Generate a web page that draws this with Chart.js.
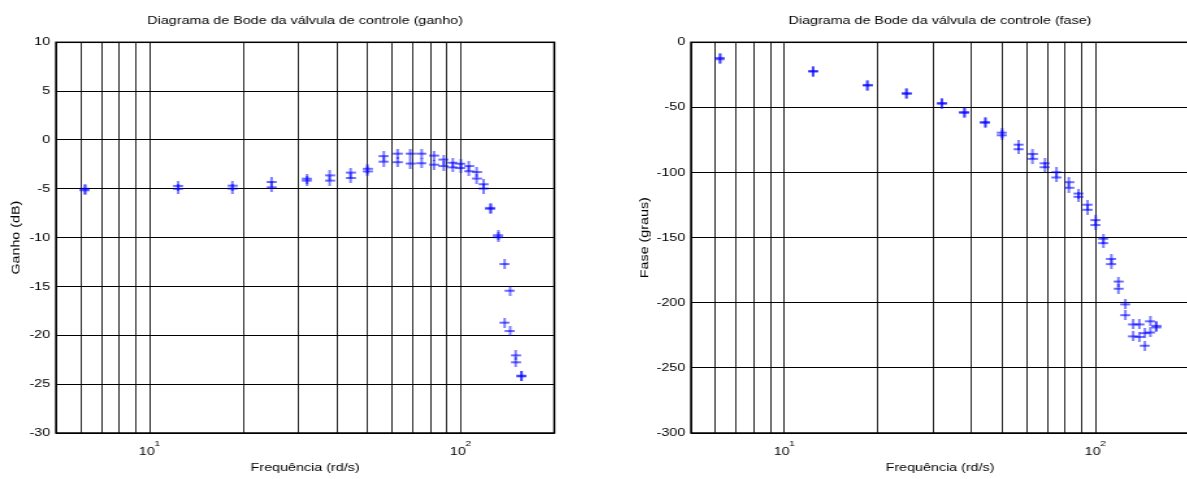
<!DOCTYPE html>
<html><head><meta charset="utf-8">
<script src="https://cdn.jsdelivr.net/npm/chart.js@4/dist/chart.umd.min.js"></script>
<style>
html,body{margin:0;padding:0;background:#fff;overflow:hidden;width:1187px;height:479px;}
canvas{position:absolute;top:0;transform-origin:0 0;transform:scaleX(1.3);}
#c1{left:0}
#c2{left:600px}
</style></head><body>
<canvas id="c1" width="462" height="479"></canvas>
<canvas id="c2" width="477" height="479"></canvas>
<script>
// ---- data ----
const frequencies = [6.2, 12.35, 18.45, 24.65, 32.05, 37.9, 44.25, 50.1, 56.6, 62.7, 68.8, 74.9, 82.1, 88.2, 94.3, 100.1, 106.1, 112.5, 118.5, 124.8, 132.2, 138.4, 144.2, 150.2, 156.8];
const gainRunA  = [-5.0, -4.7, -4.68, -4.3, -3.96, -3.62, -3.34, -2.95, -1.65, -1.4, -1.4, -1.4, -1.6, -2.0, -2.33, -2.43, -2.67, -3.28, -4.53, -6.95, -9.75, -12.7, -15.43, -22.05, -24.13];
const gainRunB  = [-5.15, -5.0, -4.98, -4.85, -4.16, -4.16, -3.89, -3.22, -2.22, -2.27, -2.41, -2.38, -2.53, -2.67, -2.8, -2.87, -3.2, -3.95, -4.97, -7.05, -9.95, -18.7, -19.56, -22.76, -24.2];
const phaseRunA = [-12, -22, -32.7, -39, -46.6, -53.5, -61.2, -69.4, -78.6, -85.7, -92.9, -99.7, -107.4, -116.1, -124.7, -136.5, -150.8, -166.3, -183.7, -201.2, -216.6, -216.6, -223.3, -214.2, -217.7];
const phaseRunB = [-13, -22.5, -33.2, -39.6, -47.2, -54.2, -61.8, -71.4, -82.1, -89.5, -95.9, -103.8, -111.7, -118.6, -128.6, -140.3, -154.2, -170.3, -189.2, -209.5, -225.8, -226.2, -233.0, -222.8, -218.9];
const xTickValues = [5, 6, 7, 8, 9, 10, 20, 30, 40, 50, 60, 70, 80, 90, 100, 200];
const gainTickStep = 5, gainMin = -30, gainMax = 10;
const phaseTickStep = 50, phaseMin = -300, phaseMax = 0;
const gainTitle = 'Diagrama de Bode da válvula de controle (ganho)';
const phaseTitle = 'Diagrama de Bode da válvula de controle (fase)';
const gainAxisLabel = 'Ganho (dB)';
const phaseAxisLabel = 'Fase (graus)';
const freqAxisLabel = 'Frequência (rd/s)';

// ---- styling ----
const S = 1.3; // horizontal stretch of the reference picture
const FAMILY = "'Liberation Sans', Arial, Helvetica, sans-serif";
const FONT = {family: FAMILY, size: 11, weight: 'normal'};
const BLUE = '#0000ff';

function makePlus() {
  const w = 7.6, h = 10;
  const c = document.createElement('canvas');
  c.width = 8; c.height = h;
  const g = c.getContext('2d');
  g.strokeStyle = BLUE;
  g.lineWidth = 1.0;
  g.beginPath(); g.moveTo(4, 0); g.lineTo(4, h); g.stroke();
  g.lineWidth = 1.2;
  g.beginPath(); g.moveTo(4 - w / 2, h / 2); g.lineTo(4 + w / 2, h / 2); g.stroke();
  return c;
}
const plus = makePlus();

const boxPlugin = {
  id: 'box',
  afterDraw(chart) {
    const {ctx, chartArea: a} = chart;
    ctx.save();
    ctx.strokeStyle = '#000';
    ctx.lineWidth = 1.5;
    ctx.strokeRect(a.left, a.top, a.right - a.left, a.bottom - a.top);
    ctx.restore();
  }
};
const exponentPlugin = {
  id: 'exponent',
  afterDraw(chart) {
    const sc = chart.scales.x, ctx = chart.ctx;
    ctx.save();
    ctx.font = "8px " + FAMILY;
    ctx.fillStyle = '#000';
    ctx.textBaseline = 'middle';
    ctx.textAlign = 'left';
    sc.ticks.forEach(t => {
      const e = Math.log10(t.value);
      if (t.value >= 10 && Math.abs(e - Math.round(e)) < 1e-9) {
        ctx.fillText(String(Math.round(e)), sc.getPixelForValue(t.value) + 3.6, 443.5);
      }
    });
    ctx.restore();
  }
};
// vertical axis title, drawn so that it keeps normal proportions after the horizontal stretch
const yTitlePlugin = {
  id: 'ytitle',
  afterDraw(chart, args, opts) {
    const {ctx, chartArea: a} = chart;
    ctx.save();
    ctx.translate(opts.x / S, (a.top + a.bottom) / 2);
    ctx.scale(1 / S, 1);
    ctx.rotate(-Math.PI / 2);
    ctx.scale(S, 1);
    ctx.font = "11px " + FAMILY;
    ctx.fillStyle = '#000';
    ctx.textAlign = 'center';
    ctx.textBaseline = 'middle';
    ctx.fillText(opts.text, 0, 0);
    ctx.restore();
  }
};

function pts(ys) { return frequencies.map((f, i) => ({x: f, y: ys[i]})); }
function ds(ys) {
  return {data: pts(ys), showLine: false, pointStyle: plus, pointRadius: 5, pointHoverRadius: 5,
          borderColor: BLUE, backgroundColor: BLUE};
}

function makeChart(id, opts) {
  return new Chart(document.getElementById(id), {
    type: 'scatter',
    data: {datasets: [ds(opts.runA), ds(opts.runB)]},
    options: {
      responsive: false, animation: false, devicePixelRatio: 1,
      events: [],
      layout: {padding: {left: 0, right: opts.padRight, top: 0, bottom: 0}},
      plugins: {
        legend: {display: false}, tooltip: {enabled: false},
        title: {display: true, text: opts.title, fullSize: false, color: '#000', font: FONT,
                padding: {top: 14.5, bottom: 14.6}},
        ytitle: {text: opts.yLabel, x: opts.yTitleX}
      },
      scales: {
        x: {
          type: 'logarithmic', min: xTickValues[0], max: xTickValues[xTickValues.length - 1],
          afterBuildTicks: s => { s.ticks = xTickValues.map(v => ({value: v})); },
          afterFit: s => { s.height = 46; },
          ticks: {autoSkip: false, maxRotation: 0, minRotation: 0, padding: 12, labelOffset: -2.2,
                  color: '#000', font: FONT,
                  callback: v => { const e = Math.log10(v); return (v >= 10 && Math.abs(e - Math.round(e)) < 1e-9) ? '10' : ''; }},
          grid: {color: '#000', lineWidth: 0.85, drawTicks: false},
          border: {display: false},
          title: {display: true, text: freqAxisLabel, color: '#000', font: FONT, padding: {top: 0, bottom: 4.4}}
        },
        y: {
          min: opts.min, max: opts.max,
          afterFit: s => { s.width = opts.yWidth; },
          ticks: {stepSize: opts.step, padding: 4.5, color: '#000', font: FONT},
          grid: {color: '#000', lineWidth: 1, drawTicks: false},
          border: {display: false},
          title: {display: false}
        }
      }
    },
    plugins: [boxPlugin, exponentPlugin, yTitlePlugin]
  });
}

makeChart('c1', {runA: gainRunA, runB: gainRunB, title: gainTitle, yLabel: gainAxisLabel, yTitleX: 16.5,
  min: gainMin, max: gainMax, step: gainTickStep, yWidth: 56 / S, padRight: 462 - 554.3 / S});
makeChart('c2', {runA: phaseRunA, runB: phaseRunB, title: phaseTitle, yLabel: phaseAxisLabel, yTitleX: 44.5,
  min: phaseMin, max: phaseMax, step: phaseTickStep, yWidth: 91 / S, padRight: 477 - 589 / S});
</script>
</body></html>
